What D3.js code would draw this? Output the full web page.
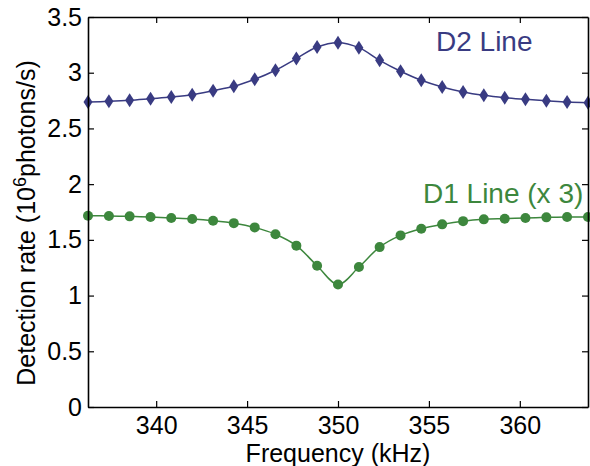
<!DOCTYPE html>
<html lang="en">
<head>
<meta charset="utf-8">
<style>
  body { margin: 0; background: #fff; }
  text { font-family: "Liberation Sans", Arial, Helvetica, sans-serif; }
</style>
<script src="https://cdn.jsdelivr.net/npm/d3@7"></script>
</head>
<body>
<div id="chart"></div>
<script>

// frequency points (kHz): 25 steps across 350 +/- 13.75
var freq = [336.25, 337.40, 338.54, 339.69, 340.83, 341.98, 343.13, 344.27, 345.42,
            346.56, 347.71, 348.85, 350.00, 351.15, 352.29, 353.44, 354.58, 355.73,
            356.88, 358.02, 359.17, 360.31, 361.46, 362.60, 363.75];

var d2 = [2.737, 2.743, 2.752, 2.767, 2.782, 2.803, 2.839, 2.878, 2.941, 3.022,
          3.127, 3.231, 3.270, 3.225, 3.111, 3.013, 2.932, 2.872, 2.827, 2.797,
          2.776, 2.761, 2.749, 2.737, 2.731];

var d1 = [1.717, 1.714, 1.711, 1.705, 1.696, 1.687, 1.672, 1.650, 1.612, 1.550,
          1.448, 1.268, 1.100, 1.256, 1.435, 1.540, 1.600, 1.639, 1.668, 1.684,
          1.690, 1.696, 1.702, 1.705, 1.705];

var xTicks = [340, 345, 350, 355, 360];
var yTicks = [0, 0.5, 1, 1.5, 2, 2.5, 3, 3.5];

var blue = "#393b82",
    green = "#3d873d";

var width = 590, height = 466;
var margin = {left: 88, right: 2, top: 17, bottom: 59};

var x = d3.scaleLinear().domain([336.25, 363.75]).range([margin.left, width - margin.right]);
var y = d3.scaleLinear().domain([0, 3.5]).range([height - margin.bottom, margin.top]);

var svg = d3.select("#chart").append("svg")
  .attr("width", width)
  .attr("height", height);

var line = d3.line()
  .x(function(d) { return x(d[0]); })
  .y(function(d) { return y(d[1]); })
  .curve(d3.curveCatmullRom);

var s2 = freq.map(function(f, i) { return [f, d2[i]]; });
var s1 = freq.map(function(f, i) { return [f, d1[i]]; });

var plot = svg.append("g");

plot.append("path").datum(s2)
  .attr("fill", "none").attr("stroke", blue).attr("stroke-width", 1.5)
  .attr("d", line);

plot.selectAll(".dia").data(s2).enter().append("path")
  .attr("class", "dia")
  .attr("fill", blue)
  .attr("transform", function(d) { return "translate(" + x(d[0]) + "," + y(d[1]) + ")"; })
  .attr("d", "M0,-7L4.5,0L0,7L-4.5,0Z");

plot.append("path").datum(s1)
  .attr("fill", "none").attr("stroke", green).attr("stroke-width", 1.5)
  .attr("d", line);

plot.selectAll(".dot").data(s1).enter().append("circle")
  .attr("class", "dot")
  .attr("fill", green)
  .attr("cx", function(d) { return x(d[0]); })
  .attr("cy", function(d) { return y(d[1]); })
  .attr("r", 5);

// axes, ticks pointing inward on all sides
var fs = "25px";
var xAxis = svg.append("g")
  .attr("transform", "translate(0," + y(0) + ")")
  .call(d3.axisBottom(x).tickValues(xTicks).tickSizeInner(-6).tickSizeOuter(0).tickPadding(9));
var xTop = svg.append("g")
  .attr("transform", "translate(0," + y(3.5) + ")")
  .call(d3.axisTop(x).tickValues(xTicks).tickSizeInner(-6).tickSizeOuter(0).tickFormat(""));
var yAxis = svg.append("g")
  .attr("transform", "translate(" + x(336.25) + ",0)")
  .call(d3.axisLeft(y).tickValues(yTicks).tickSizeInner(-6).tickSizeOuter(0).tickPadding(6)
    .tickFormat(function(d) { return String(d); }));
var yRight = svg.append("g")
  .attr("transform", "translate(" + x(363.75) + ",0)")
  .call(d3.axisRight(y).tickValues(yTicks).tickSizeInner(-6).tickSizeOuter(0).tickFormat(""));

[xAxis, xTop, yAxis, yRight].forEach(function(g) {
  g.select(".domain").attr("stroke", "#000").attr("stroke-width", 1.6);
  g.selectAll(".tick line").attr("stroke", "#000").attr("stroke-width", 1.2);
  g.selectAll(".tick text").attr("fill", "#000").style("font-size", fs)
    .style("font-family", '"Liberation Sans", Arial, sans-serif');
});

// axis titles
svg.append("text")
  .attr("x", x(350)).attr("y", 462)
  .attr("text-anchor", "middle")
  .style("font-size", "25px")
  .text("Frequency (kHz)");

var yl = svg.append("text")
  .attr("transform", "translate(35,223) rotate(-90)")
  .attr("text-anchor", "middle")
  .style("font-size", "25px");
yl.append("tspan").text("Detection rate (10");
yl.append("tspan").attr("dy", -9).style("font-size", "18px").text("6");
yl.append("tspan").attr("dy", 9).text("photons/s)");

// series labels
svg.append("text")
  .attr("x", 436).attr("y", 51)
  .attr("fill", blue)
  .style("font-size", "28px")
  .text("D2 Line");

svg.append("text")
  .attr("x", 423).attr("y", 203)
  .attr("fill", green)
  .style("font-size", "28px")
  .text("D1 Line (x 3)");

</script>
</body>
</html>
